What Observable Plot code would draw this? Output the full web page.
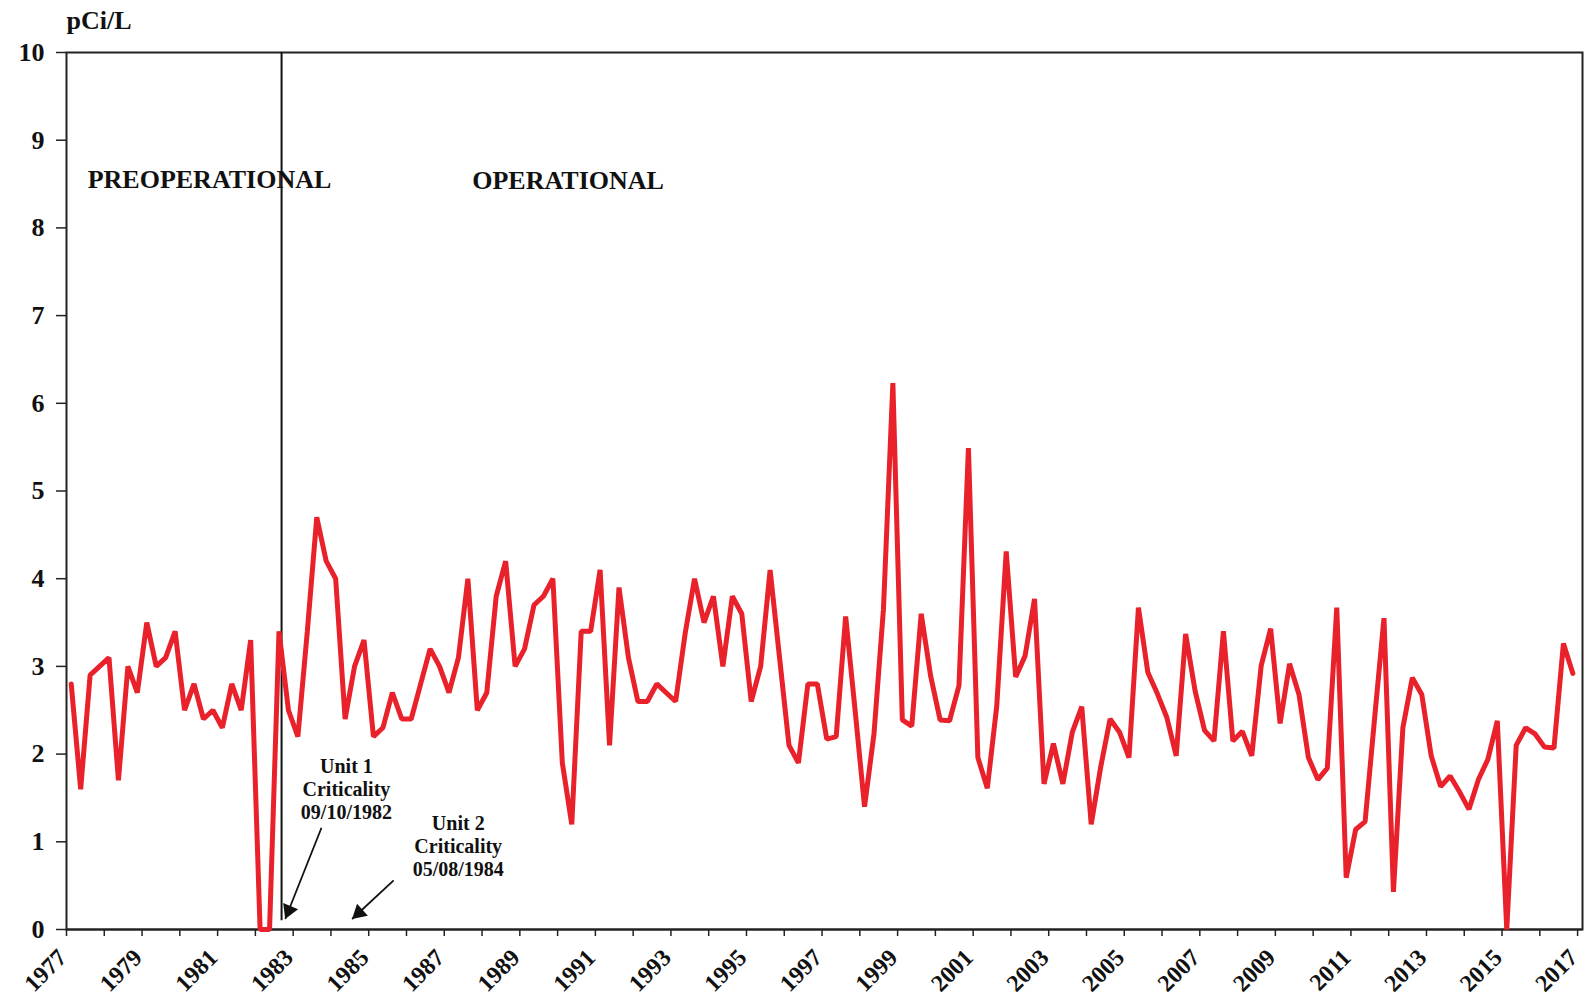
<!DOCTYPE html>
<html><head><meta charset="utf-8">
<script src="https://cdn.jsdelivr.net/npm/d3@7"></script>
<script src="https://cdn.jsdelivr.net/npm/@observablehq/plot@0.6"></script>
<style>body{margin:0;background:#fff}</style>
</head><body><div id="chart"></div>
<script>
const years = d3.range(1977, 2017);
const q1 = [2.8,3.1,3.5,2.5,2.3,0,2.2,4.0,2.2,2.4,2.7,2.7,3.2,1.9,4.1,2.6,2.6,3.8,2.6,2.1,2.17,1.4,2.39,2.39,1.96,2.88,2.12,1.2,1.96,2.42,2.27,2.26,2.35,1.71,1.14,0.43,1.98,1.37,0,2.08];
const q2 = [1.6,1.7,3.0,2.8,2.8,0,3.4,2.4,2.3,2.8,3.1,3.8,3.7,1.2,2.1,2.6,3.37,3.0,3.0,1.9,2.2,2.23,2.32,2.38,1.61,3.12,1.66,1.85,3.67,1.98,2.15,1.98,3.03,1.84,1.23,2.3,1.63,1.71,2.1,2.07];
const q3 = [2.9,3.0,3.1,2.4,2.5,3.4,4.7,3.0,2.7,3.2,4.0,4.2,3.8,3.4,3.9,2.8,4.0,3.8,4.1,2.8,3.57,3.65,3.6,2.78,2.55,3.77,2.25,2.4,2.93,3.37,3.4,3.01,2.68,3.67,2.4,2.87,1.75,1.94,2.3,3.26];
const q4 = [3.0,2.7,3.4,2.5,3.3,2.5,4.2,3.3,2.4,3.0,2.5,3.0,4.0,3.4,3.1,2.7,3.5,3.6,3.1,2.8,2.5,6.23,2.89,5.49,4.31,1.66,2.54,2.25,2.69,2.72,2.15,3.43,1.96,0.59,3.55,2.68,1.57,2.38,2.23,2.92];
const yTicks = d3.range(0, 11);
const xTicks = d3.range(1977, 2018);
const xLabelTicks = d3.range(1977, 2018, 2);
const phaseLabels = ["PREOPERATIONAL", "OPERATIONAL"];
const unitLabels = ["Unit 1\nCriticality\n09/10/1982", "Unit 2\nCriticality\n05/08/1984"];
const unitLabel = "pCi/L";

const data = years.flatMap((yr, k) => [q1, q2, q3, q4].map((arr, q) => ({t: yr + (q + 0.5) / 4, v: arr[k]})));
const unit1 = 1982 + 253 / 365; // 09/10/1982

const arrow1 = {x1: 1983.75, y1: 1.16, x2: 1982.79, y2: 0.12, rot: 203};
const arrow2 = {x1: 1985.66, y1: 0.56, x2: 1984.56, y2: 0.12, rot: 228};

const font = "'Liberation Serif','Times New Roman',serif";
const chart = Plot.plot({
  width: 1585, height: 998,
  marginLeft: 66, marginRight: 3, marginTop: 52, marginBottom: 69,
  style: {fontFamily: font, fontWeight: "bold", color: "#111", background: "#fff"},
  x: {domain: [1977, 2017.13], label: null},
  y: {domain: [0, 10], label: null},
  marks: [
    Plot.frame({stroke: "#222", strokeWidth: 2}),
    Plot.axisY({ticks: yTicks, tickSize: 10, tickPadding: 12, fontSize: 26, fontWeight: "bold", tickFormat: d => String(d), stroke: "#222", strokeWidth: 1.5}),
    Plot.axisX({ticks: xTicks, tickSize: 7, tickFormat: () => "", stroke: "#222", strokeWidth: 1.5}),
    Plot.axisX({ticks: xLabelTicks, tickSize: 0, tickPadding: 24, tickRotate: -45, fontSize: 24, fontWeight: "bold",
      dx: -4, tickFormat: d => String(d)}),
    Plot.ruleY([0], {stroke: "#222", strokeWidth: 2}),
    Plot.ruleX([unit1], {y1: 0.1, y2: 10, stroke: "#111", strokeWidth: 2}),
    Plot.line(data, {x: "t", y: "v", stroke: "#e8212b", strokeWidth: 5, strokeLinejoin: "miter"}),
    Plot.text([unitLabel], {x: 1977, y: 10, dy: -24, textAnchor: "start", lineAnchor: "bottom", fontSize: 26, fontWeight: "bold", fill: "#111"}),
    Plot.text([phaseLabels[0]], {x: 1977.56, y: 8.45, textAnchor: "start", lineAnchor: "bottom", fontSize: 26, fontWeight: "bold", fill: "#111"}),
    Plot.text([phaseLabels[1]], {x: 1987.74, y: 8.44, textAnchor: "start", lineAnchor: "bottom", fontSize: 26, fontWeight: "bold", fill: "#111"}),
    Plot.text([unitLabels[0]], {x: 1984.41, y: 1.97, textAnchor: "middle", lineAnchor: "top", lineHeight: 1.15, fontSize: 20, fontWeight: "bold", fill: "#111"}),
    Plot.text([unitLabels[1]], {x: 1987.37, y: 1.32, textAnchor: "middle", lineAnchor: "top", lineHeight: 1.15, fontSize: 20, fontWeight: "bold", fill: "#111"}),
    Plot.link([arrow1, arrow2], {x1: "x1", y1: "y1", x2: "x2", y2: "y2", stroke: "#111", strokeWidth: 1.8}),
    Plot.dot([arrow1], {x: "x2", y: "y2", dx: 3.6, dy: -8.6, symbol: "triangle", r: 6, fill: "#111", stroke: "none", rotate: "rot"}),
    Plot.dot([arrow2], {x: "x2", y: "y2", dx: 6.9, dy: -6.2, symbol: "triangle", r: 6, fill: "#111", stroke: "none", rotate: "rot"})
  ]
});
document.getElementById("chart").appendChild(chart);
</script>
</body></html>
